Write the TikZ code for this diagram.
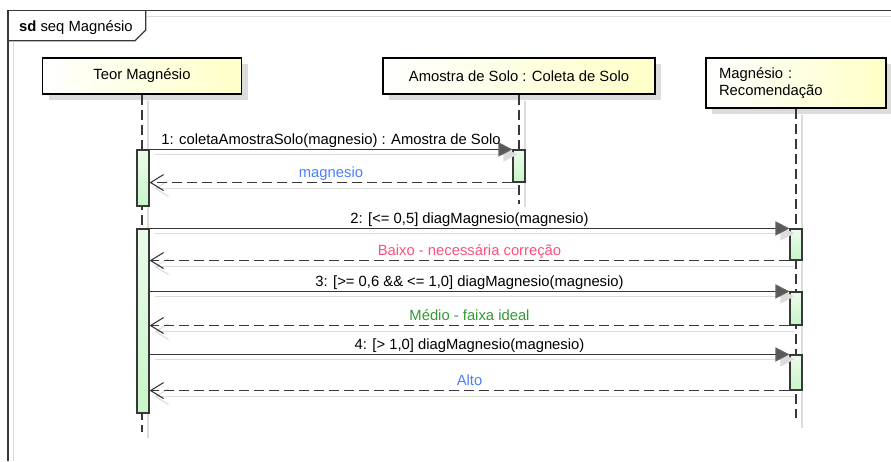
\documentclass[tikz,border=0pt]{standalone}
\usepackage{fontspec}
\setmainfont{Liberation Sans}
\usetikzlibrary{arrows.meta,positioning,shadows}

\definecolor{frameline}{HTML}{383838}
\definecolor{headfill}{HTML}{FFFFC8}
\definecolor{barfill}{HTML}{C8F5C8}
\definecolor{shadowgray}{HTML}{DCDCDC}
\definecolor{retblue}{HTML}{4A7DFF}
\definecolor{retred}{HTML}{FF4F7A}
\definecolor{retgreen}{HTML}{339933}

\begin{document}
\begin{tikzpicture}[x=1pt,y=-1pt,font=\fontsize{14.8}{17.5}\selectfont]
    \tikzstyle{every node}+=[inner sep=0pt]
    \tikzstyle{frame}=[frameline,line width=1.3pt]
    \tikzstyle{shadowline}=[shadowgray,line width=1.2pt]
    \tikzstyle{headbox}=[draw=black,line width=1.8pt,left color=white,right color=headfill,
        drop shadow={shadow xshift=6pt,shadow yshift=-6pt,fill=shadowgray,opacity=1}]
    \tikzstyle{lifeline}=[frameline,line width=1.4pt,dash pattern=on 10pt off 5pt]
    \tikzstyle{bar}=[draw=frameline,line width=1.1pt,top color=barfill!35,bottom color=barfill,
        minimum width=12pt]
    \tikzstyle{call}=[frameline,line width=1.5pt,
        -{Triangle[length=14pt,width=14pt,fill=gray!70!black,color=gray!75!black]}]
    \tikzstyle{callshadow}=[shadowgray,line width=1.3pt,
        -{Triangle[length=14pt,width=14pt,fill=shadowgray]}]
    \tikzstyle{reply}=[frameline,line width=1.5pt,dash pattern=on 10pt off 5pt,
        -{Straight Barb[length=13pt,width=16pt,line width=1.1pt]}]
    \tikzstyle{replyshadow}=[shadowgray,line width=1.3pt,
        -{Straight Barb[length=13pt,width=16pt,line width=1.1pt]}]
    \tikzstyle{msg}=[midway,anchor=base,yshift=5pt]
    \useasboundingbox (0,0) rectangle (891,461);

    % frame and its tab
    \draw [shadowline] (13.6,41.5) -- (13.6,461);
    \draw [shadowline] (146.5,16.2) -- (891,16.2);
    \draw [frame] (8,461) -- (8,10.7) -- (891,10.7);
    \draw [frame] (8,40.7) -- (135,40.7) -- (145.7,30) -- (145.7,10.7);
    \node [anchor=base west] (title) at (19,31) {\textbf{sd} seq Magnésio};

    % lifeline heads
    \node [headbox,minimum width=199pt,minimum height=36pt] (teor) at (142,76) {Teor Magnésio};
    \node [headbox,minimum width=272pt,minimum height=36pt] (amostra) at (519,76)
        {Amostra de Solo : Coleta de Solo};
    \node [headbox,minimum width=180pt,minimum height=50pt,text width=154pt,align=left]
        (recom) at (796,83) {Magnésio :\\Recomendação};

    % lifelines
    \coordinate (teor end) at (142,432);
    \coordinate (amostra end) at (519,204);
    \coordinate (recom end) at (796,418);
    \draw [shadowline] ([xshift=6pt,yshift=-6pt]teor.south) -- ([xshift=6pt,yshift=-6pt]teor end);
    \draw [shadowline] ([xshift=6pt,yshift=-6pt]amostra.south) -- ([xshift=6pt,yshift=-3pt]amostra end);
    \draw [shadowline] ([xshift=6pt,yshift=-6pt]recom.south) -- ([xshift=6pt,yshift=-10pt]recom end);
    \draw [lifeline] (teor.south) -- (teor end);
    \draw [lifeline] (amostra.south) -- (amostra end);
    \draw [lifeline] (recom.south) -- (recom end);

    % activations
    \node [bar,minimum height=56pt] (act1) at (143,178) {};
    \node [bar,minimum height=32pt] (act2) at (519,166) {};
    \node [bar,minimum height=184pt] (act3) at (143,321) {};
    \node [bar,minimum height=31pt] (rec1) at (796,244.5) {};
    \node [bar,minimum height=33pt] (rec2) at (796,308.5) {};
    \node [bar,minimum height=35pt] (rec3) at (796,372.5) {};

    % 1: coleta
    \draw [callshadow] ([xshift=5pt,yshift=-5pt]act1.north east) -- ([xshift=5pt,yshift=-5pt]act2.north west);
    \draw [call] (act1.north east) -- (act2.north west)
        node [msg,black] {1: coletaAmostraSolo(magnesio) : Amostra de Solo};
    \draw [replyshadow] ([xshift=5pt,yshift=-6pt]act2.south west) -- ([xshift=5pt,yshift=-6pt]act1.east |- act2.south);
    \draw [reply] (act2.south west) -- (act1.east |- act2.south)
        node [msg,retblue] {magnesio};

    % 2: <= 0,5
    \draw [callshadow] ([xshift=5pt,yshift=-5pt]act3.north east) -- ([xshift=5pt,yshift=-5pt]rec1.north west);
    \draw [call] (act3.north east) -- (rec1.north west)
        node [msg,black] {2: [<= 0,5] diagMagnesio(magnesio)};
    \draw [replyshadow] ([xshift=5pt,yshift=-6pt]rec1.south west) -- ([xshift=5pt,yshift=-6pt]act3.east |- rec1.south);
    \draw [reply] (rec1.south west) -- (act3.east |- rec1.south)
        node [msg,retred] {Baixo - necessária correção};

    % 3: 0,6 .. 1,0
    \draw [callshadow] ([xshift=5pt,yshift=-5pt]act3.east |- rec2.north) -- ([xshift=5pt,yshift=-5pt]rec2.north west);
    \draw [call] (act3.east |- rec2.north) -- (rec2.north west)
        node [msg,black] {3: [>= 0,6 \&\& <= 1,0] diagMagnesio(magnesio)};
    \draw [replyshadow] ([xshift=5pt,yshift=-6pt]rec2.south west) -- ([xshift=5pt,yshift=-6pt]act3.east |- rec2.south);
    \draw [reply] (rec2.south west) -- (act3.east |- rec2.south)
        node [msg,retgreen] {Médio - faixa ideal};

    % 4: > 1,0
    \draw [callshadow] ([xshift=5pt,yshift=-5pt]act3.east |- rec3.north) -- ([xshift=5pt,yshift=-5pt]rec3.north west);
    \draw [call] (act3.east |- rec3.north) -- (rec3.north west)
        node [msg,black] {4: [> 1,0] diagMagnesio(magnesio)};
    \draw [replyshadow] ([xshift=5pt,yshift=-6pt]rec3.south west) -- ([xshift=5pt,yshift=-6pt]act3.east |- rec3.south);
    \draw [reply] (rec3.south west) -- (act3.east |- rec3.south)
        node [msg,retblue] {Alto};
\end{tikzpicture}
\end{document}
